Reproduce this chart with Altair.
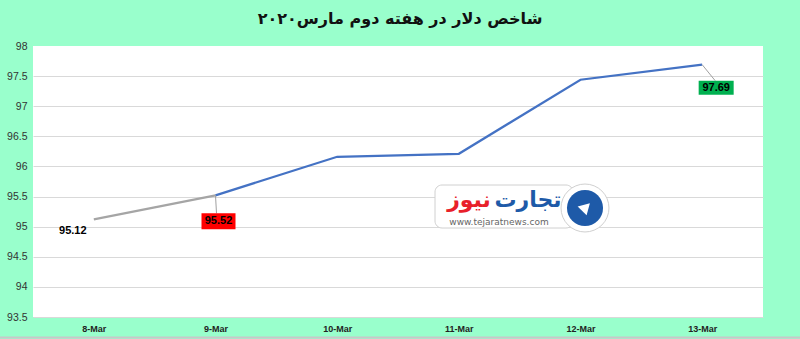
import altair as alt
import pandas as pd

# Dollar index, second week of March 2020
days = ["8-Mar", "9-Mar", "10-Mar", "11-Mar", "12-Mar", "13-Mar"]
values = [95.12, 95.52, 96.16, 96.21, 97.44, 97.69]
y_ticks = [93.5, 94.0, 94.5, 95.0, 95.5, 96.0, 96.5, 97.0, 97.5]
title_text = "شاخص دلار در هفته دوم مارس۲۰۲۰"

BG = "#99FFCC"
BLUE = "#4472C4"
GRAY = "#A5A5A5"

# first segment drawn grey, the rest blue
rows = []
for i in range(2):
    rows.append({"day": days[i], "value": values[i], "seg": "a", "order": i})
for i in range(1, len(days)):
    rows.append({"day": days[i], "value": values[i], "seg": "b", "order": i})
line_df = pd.DataFrame(rows)
pts = pd.DataFrame({"day": days, "value": values})

x_enc = alt.X("day:O", sort=days, scale=alt.Scale(type="point", padding=0.5),
              axis=alt.Axis(title=None, labelAngle=0, labelFont="Liberation Sans",
                            labelFontWeight="bold", labelFontSize=9, labelColor="#222222",
                            ticks=False, domain=False, labelPadding=7, grid=False))
y_enc = alt.Y("value:Q", scale=alt.Scale(domain=[93.5, 98], nice=False, zero=False),
              axis=alt.Axis(title=None, values=y_ticks + [98.0], format=".1~f", ticks=False,
                            domain=False, labelFont="Liberation Sans", labelFontSize=10.5,
                            labelColor="#333333", labelOverlap=False, labelPadding=6,
                            grid=True, gridColor="#D9D9D9", gridWidth=1,
                            gridOpacity={"expr": "datum.value >= 98 ? 0 : 1"}))

line = alt.Chart(line_df).mark_line(strokeWidth=2.2).encode(
    x=x_enc, y=y_enc,
    color=alt.Color("seg:N", scale=alt.Scale(domain=["a", "b"], range=[GRAY, BLUE]), legend=None),
    detail="seg:N", order="order:Q",
)

first = pts.iloc[[0]]
second = pts.iloc[[1]]
last = pts.iloc[[5]]

lbl_first = alt.Chart(first).mark_text(
    font="Liberation Sans", fontWeight="bold", fontSize=11, color="black", dx=-21, dy=12
).encode(x=x_enc, y=y_enc, text=alt.Text("value:Q", format=".2f"))

lead2 = alt.Chart(second).mark_rule(color="#A0A0A0", strokeWidth=1, x2Offset=1, y2Offset=18).encode(
    x=x_enc, y=y_enc, x2="day:O", y2="value:Q")
box2 = alt.Chart(second).mark_rect(width=34, height=16, color="#FF0000", xOffset=3, yOffset=26).encode(
    x=x_enc, y=y_enc)
txt2 = alt.Chart(second).mark_text(
    font="Liberation Sans", fontWeight="bold", fontSize=11, color="black", dx=3, dy=26
).encode(x=x_enc, y=y_enc, text=alt.Text("value:Q", format=".2f"))

lead6 = alt.Chart(last).mark_rule(color="#A0A0A0", strokeWidth=1, x2Offset=13, y2Offset=16).encode(
    x=x_enc, y=y_enc, x2="day:O", y2="value:Q")
box6 = alt.Chart(last).mark_rect(width=35, height=14, color="#00B050", xOffset=14, yOffset=23).encode(
    x=x_enc, y=y_enc)
txt6 = alt.Chart(last).mark_text(
    font="Liberation Sans", fontWeight="bold", fontSize=11, color="black", dx=14, dy=23
).encode(x=x_enc, y=y_enc, text=alt.Text("value:Q", format=".2f"))

one = pd.DataFrame({"k": [0]})

title = alt.Chart(one).mark_text(
    text=title_text, font="DejaVu Sans", fontWeight="bold", fontSize=16, color="#111111"
).encode(x=alt.value(367), y=alt.value(-27))

# watermark badge
badge = alt.Chart(one).mark_rect(
    fill="white", stroke="#D0D0D0", strokeWidth=1, cornerRadius=7
).encode(x=alt.value(402), x2=alt.value(540), y=alt.value(139), y2=alt.value(182))
circ_out = alt.Chart(one).mark_point(
    shape="circle", size=2300, filled=True, fill="white", stroke="#D0D0D0", strokeWidth=1, opacity=1
).encode(x=alt.value(552), y=alt.value(162))
circ_in = alt.Chart(one).mark_point(
    shape="circle", size=1300, filled=True, fill="#1E5AA8", opacity=1
).encode(x=alt.value(552), y=alt.value(162))
arrow = alt.Chart(one).mark_point(
    shape="triangle-up", size=160, filled=True, fill="white", opacity=1, angle=45
).encode(x=alt.value(553), y=alt.value(161))
brand_blue = alt.Chart(one).mark_text(
    text="تجارت", font="DejaVu Sans", fontWeight="bold", fontSize=22, color="#1E5AA8"
).encode(x=alt.value(495), y=alt.value(154))
brand_red = alt.Chart(one).mark_text(
    text="نیوز", font="DejaVu Sans", fontWeight="bold", fontSize=22, color="#E8202A"
).encode(x=alt.value(436), y=alt.value(154))
url = alt.Chart(one).mark_text(
    text="www.tejaratnews.com", font="DejaVu Sans", fontSize=9, color="#666666"
).encode(x=alt.value(466), y=alt.value(176))

bottom_rule = alt.Chart(one).mark_rule(color="#C8C8C8", strokeWidth=2).encode(
    x=alt.value(-33), x2=alt.value(767), y=alt.value(291.5))

chart = alt.layer(
    bottom_rule, badge, circ_out, circ_in, arrow, brand_blue, brand_red, url,
    line, lbl_first, lead2, box2, txt2, lead6, box6, txt6, title
).properties(
    width=730, height=271,
    autosize=alt.AutoSizeParams(type="none"),
    padding={"left": 33, "top": 46, "right": 37, "bottom": 22},
    background=BG,
).configure_view(fill="white", stroke=None)

chart.save("out.html", embed_options={"renderer": "svg", "actions": False})
